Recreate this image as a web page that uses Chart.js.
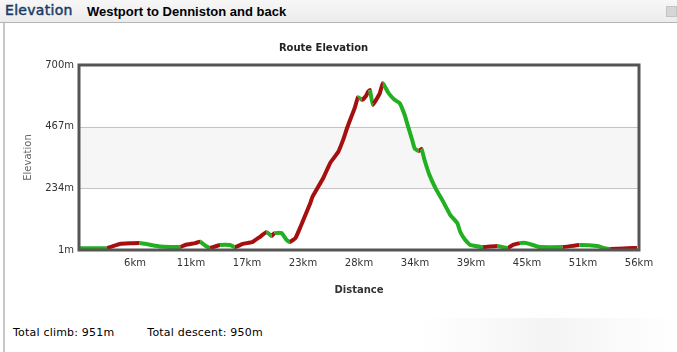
<!DOCTYPE html>
<html>
<head>
<meta charset="utf-8">
<script src="https://cdn.jsdelivr.net/npm/chart.js@4.4.1/dist/chart.umd.min.js"></script>
<style>
  html, body { margin: 0; padding: 0; background: #fff; }
  body { width: 677px; height: 352px; position: relative; overflow: hidden; font-family: "DejaVu Sans", Verdana, sans-serif; }
  #cabecera { position: absolute; left: 0; top: 0; width: 677px; height: 22px; background: linear-gradient(#f7f7f7, #ececec); border-bottom: 1px solid #b5b5b5; }
  #cabecera .sec { position: absolute; left: 5px; top: 2px; font-size: 14px; color: #1c3b66; letter-spacing: 0.3px; -webkit-text-stroke: 0.5px #1c3b66; }
  #cabecera .ruta { position: absolute; left: 87px; top: 4px; font-family: "Liberation Sans", Arial, sans-serif; font-size: 13px; font-weight: bold; color: #000; }
  #cabecera .btn { position: absolute; left: 666px; top: 6px; width: 9px; height: 9px; background: #d6d6d6; border: 1px solid #c4c4c4; }
  #panel { position: absolute; left: 3px; top: 23px; width: 674px; height: 329px; border-left: 2px solid #c8c8c8; }
  #grafico { position: absolute; left: 8px; top: 30px; width: 660px; height: 270px; }
  #totales { position: absolute; left: 13px; top: 326px; font-size: 11px; color: #000; letter-spacing: 0.2px; }
  #totales span + span { margin-left: 33px; }
  #brillo { position: absolute; left: 420px; top: 318px; width: 257px; height: 34px; background: linear-gradient(90deg, #fff, #f4f4f4 50%, #fff); }
</style>
</head>
<body>
<div id="cabecera"><span class="sec">Elevation</span><span class="ruta">Westport to Denniston and back</span><div class="btn"></div></div>
<div id="panel"></div>
<div id="brillo"></div>
<div id="grafico"><canvas id="elevacionChart"></canvas></div>
<div id="totales"><span>Total climb: 951m</span><span>Total descent: 950m</span></div>

<script>
// ===== Datos =====
const distanciaKm = [0, 2.8, 4.1, 6.1, 8.2, 10.2, 10.7, 11.7, 12.2, 12.7, 13.2, 14.2, 15.2, 15.7, 16.5, 17.5, 18.2, 18.9, 19.4, 19.7,
  20.4, 20.9, 21.2, 21.8, 22.3, 22.8, 23.3, 23.5, 24.6, 25.3, 26.1, 26.6, 27.0, 27.3, 27.8, 28.1, 28.5, 28.9, 29.1, 29.3,
  29.6, 30.3, 30.6, 31.1, 31.5, 31.8, 32.3, 32.8, 33.1, 33.5, 33.8, 34.2, 34.5, 34.8, 35.3, 35.9, 36.7, 37.4, 38.1, 38.4, 38.9,
  39.4, 40.7, 42.1, 43.2, 43.7, 44.4, 45.1, 46.4, 48.7, 50.4, 52.2, 52.8, 53.5, 56.2];
const elevacionM = [8, 8, 24, 27, 14, 12, 20, 27, 32, 18, 9, 20, 20, 12, 24, 32, 50, 69, 54, 65,
  65, 39, 31, 46, 88, 133, 179, 201, 273, 330, 371, 417, 462, 492, 541, 579, 568, 583, 598, 605,
  549, 594, 632, 598, 579, 568, 556, 511, 473, 424, 385, 375, 382, 341, 284, 235, 182, 133, 103, 69, 39,
  20, 12, 16, 9, 20, 27, 27, 12, 12, 20, 16, 9, 5, 9];
const distanciaTotal = 56.4;
const ticksX = [5.64, 11.28, 16.92, 22.56, 28.2, 33.84, 39.48, 45.12, 50.76, 56.4];
const ticksY = [1, 234, 467, 700];

const colorSube = '#a50f0f';
const colorBaja = '#20b020';

// banda gris entre 234 y 467 + marco del área
const pluginMarco = {
  id: 'marco',
  beforeDatasetsDraw(chart) {
    const { ctx, chartArea: a, scales: { y } } = chart;
    ctx.save();
    ctx.fillStyle = '#f6f6f6';
    const y1 = y.getPixelForValue(ticksY[2]), y2 = y.getPixelForValue(ticksY[1]);
    ctx.fillRect(a.left, y1, a.right - a.left, y2 - y1);
    ctx.strokeStyle = '#c4c4c4';
    ctx.lineWidth = 1;
    [ticksY[1], ticksY[2]].forEach(v => {
      const p = Math.round(y.getPixelForValue(v)) + 0.5;
      ctx.beginPath(); ctx.moveTo(a.left, p); ctx.lineTo(a.right, p); ctx.stroke();
    });
    ctx.restore();
  },
  afterDraw(chart) {
    const { ctx, chartArea: a } = chart;
    ctx.save();
    ctx.strokeStyle = '#555';
    ctx.lineWidth = 3;
    ctx.strokeRect(a.left, a.top, a.right - a.left, a.bottom - a.top);
    ctx.restore();
  }
};

document.addEventListener('DOMContentLoaded', () => {
  const ctx = document.getElementById('elevacionChart').getContext('2d');
  new Chart(ctx, {
    type: 'line',
    data: {
      datasets: [{
        data: distanciaKm.map((d, i) => ({ x: d, y: elevacionM[i] })),
        borderWidth: 4,
        borderColor: colorBaja,
        pointRadius: 0,
        tension: 0.1,
        segment: { borderColor: s => (s.p1.parsed.y > s.p0.parsed.y ? colorSube : colorBaja) }
      }]
    },
    options: {
      responsive: true,
      maintainAspectRatio: false,
      animation: false,
      layout: { padding: { left: 0, right: 29, top: 0, bottom: 0 } },
      plugins: {
        legend: { display: false },
        tooltip: { enabled: false },
        title: {
          display: true, text: 'Route Elevation', color: '#222',
          font: { family: 'DejaVu Sans', size: 10, weight: 'bold' },
          padding: { top: 12, bottom: 11 }
        }
      },
      scales: {
        x: {
          type: 'linear', min: 0, max: distanciaTotal,
          afterBuildTicks: s => { s.ticks = ticksX.map(v => ({ value: v })); },
          afterFit: s => { s.height = 50; },
          grid: { display: false, drawTicks: false },
          border: { display: false },
          ticks: { color: '#333', padding: 7, maxRotation: 0, autoSkip: false,
            font: { family: 'DejaVu Sans', size: 10 }, callback: v => Math.round(v) + 'km' },
          title: { display: true, text: 'Distance', color: '#333',
            font: { family: 'DejaVu Sans', size: 10, weight: 'bold' }, padding: { top: 4, bottom: 4 } }
        },
        y: {
          min: ticksY[0], max: ticksY[ticksY.length - 1],
          afterBuildTicks: s => { s.ticks = ticksY.map(v => ({ value: v })); },
          afterFit: s => { s.width = 71; },
          grid: { display: false, drawTicks: false },
          border: { display: false },
          ticks: { color: '#333', padding: 5,
            font: { family: 'DejaVu Sans', size: 10 }, callback: v => v + 'm' },
          title: { display: true, text: 'Elevation', color: '#666',
            font: { family: 'DejaVu Sans', size: 10 }, padding: { top: 14, bottom: 4 } }
        }
      }
    },
    plugins: [pluginMarco]
  });
});
</script>
</body>
</html>
